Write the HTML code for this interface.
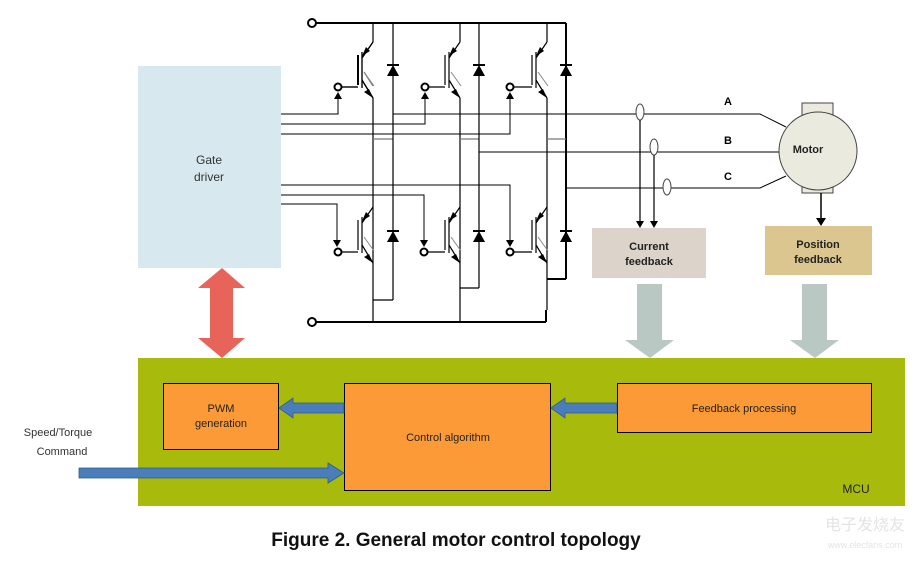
<!DOCTYPE html>
<html><head><meta charset="utf-8"><style>
html,body{margin:0;padding:0;background:#fff;}
svg{display:block;}
text{font-family:"Liberation Sans",sans-serif;}
</style></head><body>
<svg width="924" height="563" viewBox="0 0 924 563" xmlns="http://www.w3.org/2000/svg">
<defs>
<marker id="ah" markerWidth="8" markerHeight="8" refX="4" refY="7" orient="auto" markerUnits="userSpaceOnUse"><path d="M0,0 L8,0 L4,8 Z" fill="#000"/></marker>
</defs>
<!-- Gate driver -->
<rect x="138" y="66" width="143" height="202" fill="#d7e9ee"/>
<text x="209" y="164" font-size="12" text-anchor="middle" fill="#333">Gate</text>
<text x="209" y="181" font-size="12" text-anchor="middle" fill="#333">driver</text>

<!-- rails -->
<g stroke="#000" fill="none">
<line x1="316" y1="23" x2="566" y2="23" stroke-width="2"/>
<line x1="566" y1="23" x2="566" y2="279" stroke-width="2"/>
<line x1="547" y1="279" x2="566" y2="279" stroke-width="2"/>
<line x1="316" y1="322" x2="546" y2="322" stroke-width="2"/>
<line x1="546" y1="310" x2="546" y2="322" stroke-width="2"/>
</g>
<circle cx="312" cy="23" r="4" fill="#fff" stroke="#000" stroke-width="2"/>
<circle cx="312" cy="322" r="4" fill="#fff" stroke="#000" stroke-width="2"/>

<!-- gate driver lines -->
<g stroke="#000" stroke-width="1" fill="none">
<polyline points="281,114 338,114 338,96"/>
<polyline points="281,124 425,124 425,96"/>
<polyline points="281,134 510,134 510,96"/>
<polyline points="281,185 510,185 510,243"/>
<polyline points="281,195 424,195 424,243"/>
<polyline points="281,204 337,204 337,243"/>
</g>
<g fill="#000">
<path d="M334,99 L342,99 L338,92 Z"/><path d="M421,99 L429,99 L425,92 Z"/><path d="M506,99 L514,99 L510,92 Z"/>
<path d="M506,240 L514,240 L510,247 Z"/><path d="M420,240 L428,240 L424,247 Z"/><path d="M333,240 L341,240 L337,247 Z"/>
</g>

<!-- transistors -->
<g stroke="#000" fill="none" stroke-width="1.2">
<!-- top row -->
<g id="tt">
<line x1="373" y1="23" x2="373" y2="42"/>
<line x1="358" y1="55" x2="358" y2="85" stroke-width="2"/>
<line x1="362" y1="52" x2="362" y2="88"/>
<line x1="362" y1="58" x2="373" y2="42"/>
<line x1="362" y1="80" x2="373" y2="98"/>
<line x1="364" y1="72" x2="373" y2="86" stroke="#777"/>
<line x1="342" y1="87" x2="358" y2="87"/>
</g>
</g>
<g stroke="#000" fill="none" stroke-width="1.2">
<line x1="373" y1="98" x2="373" y2="322"/>
<line x1="460" y1="23" x2="460" y2="42"/><line x1="460" y1="98" x2="460" y2="322"/>
<line x1="547" y1="23" x2="547" y2="42"/><line x1="547" y1="98" x2="547" y2="310"/>
<line x1="373" y1="139" x2="393" y2="139" stroke="#777"/>
<line x1="460" y1="139" x2="479" y2="139" stroke="#777"/>
<line x1="547" y1="139" x2="566" y2="139" stroke="#777"/>
<line x1="393" y1="23" x2="393" y2="300"/><line x1="373" y1="300" x2="393" y2="300"/>
<line x1="479" y1="23" x2="479" y2="288"/><line x1="460" y1="288" x2="479" y2="288"/>
</g>
<g id="sym" stroke="#000" fill="none" stroke-width="1.2">
</g>
<!-- transistor symbols (6) -->
<g stroke="#000" fill="none" stroke-width="1.2">
<path d="M358,55V85 M362,52V88 M362,58L373,42 M362,80L373,98 M342,87H358"/>
<path d="M445,55V85 M449,52V88 M449,58L460,42 M449,80L460,98 M429,87H445"/>
<path d="M532,55V85 M536,52V88 M536,58L547,42 M536,80L547,98 M514,87H532"/>
<path d="M358,220V250 M362,217V253 M362,223L373,207 M362,245L373,263 M341,252H358"/>
<path d="M445,220V250 M449,217V253 M449,223L460,207 M449,245L460,263 M428,252H445"/>
<path d="M532,220V250 M536,217V253 M536,223L547,207 M536,245L547,263 M514,252H532"/>
</g>
<g stroke="#888" stroke-width="1">
<path d="M364,72L374,86 M451,72L461,86 M538,72L548,86 M364,237L374,251 M451,237L461,251 M538,237L548,251"/>
</g>
<g fill="#000">
<path d="M362,56 L370,51 L366,47 Z"/><path d="M449,56 L457,51 L453,47 Z"/><path d="M536,56 L544,51 L540,47 Z"/>
<path d="M362,221 L370,216 L366,212 Z"/><path d="M449,221 L457,216 L453,212 Z"/><path d="M536,221 L544,216 L540,212 Z"/>
<path d="M373,98 L364,92 L369,89 Z"/><path d="M460,98 L451,92 L456,89 Z"/><path d="M547,98 L538,92 L543,89 Z"/>
<path d="M373,263 L364,257 L369,254 Z"/><path d="M460,263 L451,257 L456,254 Z"/><path d="M547,263 L538,257 L543,254 Z"/>
<!-- diodes -->
<path d="M387,76 L399,76 L393,65 Z"/><rect x="387" y="64" width="12" height="2"/>
<path d="M473,76 L485,76 L479,65 Z"/><rect x="473" y="64" width="12" height="2"/>
<path d="M560,76 L572,76 L566,65 Z"/><rect x="560" y="64" width="12" height="2"/>
<path d="M387,242 L399,242 L393,231 Z"/><rect x="387" y="230" width="12" height="2"/>
<path d="M473,242 L485,242 L479,231 Z"/><rect x="473" y="230" width="12" height="2"/>
<path d="M560,242 L572,242 L566,231 Z"/><rect x="560" y="230" width="12" height="2"/>
</g>
<g fill="#fff" stroke="#000" stroke-width="2">
<circle cx="338" cy="87" r="3.5"/><circle cx="425" cy="87" r="3.5"/><circle cx="510" cy="87" r="3.5"/>
<circle cx="338" cy="252" r="3.5"/><circle cx="424" cy="252" r="3.5"/><circle cx="510" cy="252" r="3.5"/>
</g>

<!-- phase lines -->
<g stroke="#000" stroke-width="1" fill="none">
<polyline points="393,114 760,114 786,127"/>
<polyline points="479,152 783,152"/>
<polyline points="566,188 760,188 786,176"/>
</g>
<text x="728" y="105" font-size="11" font-weight="bold" text-anchor="middle">A</text>
<text x="728" y="144" font-size="11" font-weight="bold" text-anchor="middle">B</text>
<text x="728" y="180" font-size="11" font-weight="bold" text-anchor="middle">C</text>
<!-- current sensors -->
<g stroke="#444" stroke-width="1" fill="#fff">
<ellipse cx="640" cy="112" rx="4" ry="8"/>
<ellipse cx="654" cy="147" rx="4" ry="8"/>
<ellipse cx="667" cy="187" rx="4" ry="8"/>
</g>
<g stroke="#000" stroke-width="1.2"><line x1="640" y1="120" x2="640" y2="222"/><line x1="654" y1="155" x2="654" y2="222"/></g>
<g fill="#000"><path d="M636,221 L644,221 L640,228 Z"/><path d="M650,221 L658,221 L654,228 Z"/></g>

<!-- motor -->
<rect x="802" y="103" width="31" height="90" fill="#ebeadf" stroke="#444" stroke-width="1"/>
<circle cx="818" cy="151" r="39" fill="#ebeadf" stroke="#444" stroke-width="1"/>
<text x="808" y="153" font-size="11" font-weight="bold" text-anchor="middle" fill="#222">Motor</text>
<line x1="821" y1="193" x2="821" y2="220" stroke="#000" stroke-width="1.5"/>
<path d="M816,218 L826,218 L821,226 Z" fill="#000"/>

<!-- feedback boxes -->
<rect x="592" y="228" width="114" height="50" fill="#dcd3ca"/>
<text x="649" y="250" font-size="11" font-weight="bold" text-anchor="middle" fill="#222">Current</text>
<text x="649" y="265" font-size="11" font-weight="bold" text-anchor="middle" fill="#222">feedback</text>
<rect x="765" y="226" width="107" height="49" fill="#dcc68f"/>
<text x="818" y="248" font-size="11" font-weight="bold" text-anchor="middle" fill="#222">Position</text>
<text x="818" y="263" font-size="11" font-weight="bold" text-anchor="middle" fill="#222">feedback</text>

<!-- gray arrows -->
<path d="M637,284 H662 V340 H674 L650,358 L625,340 H637 Z" fill="#b9c8c2"/>
<path d="M802,284 H827 V340 H839 L815,358 L790,340 H802 Z" fill="#b9c8c2"/>
<!-- red double arrow -->
<path d="M222,268 L245,288 H233 V338 H245 L222,358 L198,338 H210 V288 H198 Z" fill="#e8635a"/>

<!-- MCU -->
<rect x="138" y="358" width="767" height="148" fill="#a8bb0c"/>
<text x="856" y="493" font-size="12" fill="#222" text-anchor="middle">MCU</text>
<rect x="163.5" y="383.5" width="115" height="66" fill="#fb9a36" stroke="#000" stroke-width="1"/>
<text x="221" y="412" font-size="11" text-anchor="middle" fill="#222">PWM</text>
<text x="221" y="427" font-size="11" text-anchor="middle" fill="#222">generation</text>
<rect x="344.5" y="383.5" width="206" height="107" fill="#fb9a36" stroke="#000" stroke-width="1"/>
<text x="448" y="441" font-size="11" text-anchor="middle" fill="#222">Control algorithm</text>
<rect x="617.5" y="383.5" width="254" height="49" fill="#fb9a36" stroke="#000" stroke-width="1"/>
<text x="744" y="412" font-size="11" text-anchor="middle" fill="#222">Feedback processing</text>
<!-- blue arrows -->
<path d="M344,403 V413 H293 V418 L279,408 L293,398 V403 Z" fill="#4a7ebb" stroke="#2f5a8a" stroke-width="0.8"/>
<path d="M617,403 V413 H565 V418 L551,408 L565,398 V403 Z" fill="#4a7ebb" stroke="#2f5a8a" stroke-width="0.8"/>
<path d="M79,468 H328 V463 L344,473 L328,483 V478 H79 Z" fill="#4a7ebb" stroke="#2f5a8a" stroke-width="0.8"/>
<text x="58" y="436" font-size="11" text-anchor="middle" fill="#333">Speed/Torque</text>
<text x="62" y="455" font-size="11" text-anchor="middle" fill="#333">Command</text>

<text x="456" y="546" font-size="19" font-weight="bold" text-anchor="middle" fill="#111">Figure 2. General motor control topology</text>
<text x="865" y="530" font-size="16" fill="#e4e4e4" text-anchor="middle" font-family="'Noto Sans CJK SC',sans-serif">电子发烧友</text>
<text x="865" y="548" font-size="9" fill="#e4e4e4" text-anchor="middle">www.elecfans.com</text>
</svg>
</body></html>
